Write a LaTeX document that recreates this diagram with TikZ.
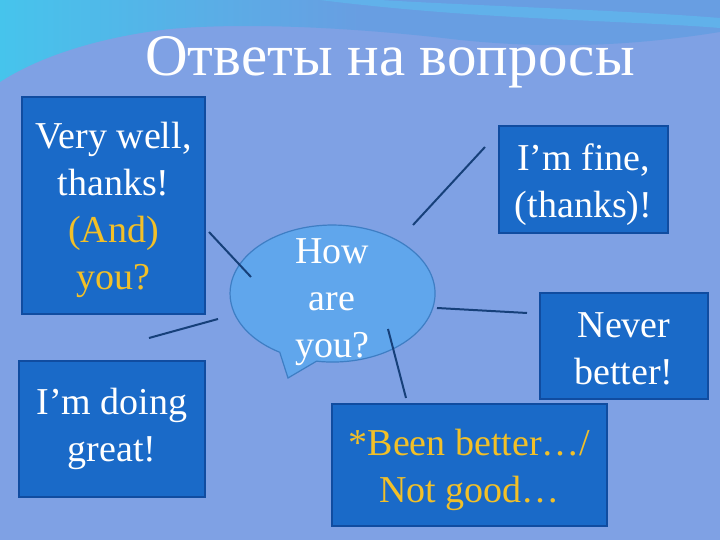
\documentclass[tikz,border=0pt]{standalone}
\usepackage{fontspec}
\setmainfont{Liberation Serif}
\definecolor{slideBg}{RGB}{127,161,228}
\definecolor{waveBlue}{RGB}{104,158,226}
\definecolor{waveCyan}{RGB}{70,196,236}
\definecolor{bandCyan}{RGB}{96,182,236}
\definecolor{boxFill}{RGB}{26,106,200}
\definecolor{boxLine}{RGB}{16,76,160}
\definecolor{bubbleFill}{RGB}{96,166,236}
\definecolor{bubbleLine}{RGB}{62,126,196}
\definecolor{stickLine}{RGB}{22,64,122}
\definecolor{answerGold}{RGB}{242,192,40}

\begin{document}
\begin{tikzpicture}
[x=1pt,y=1pt,
  boxDecorate/.style={draw=boxLine,line width=1.2pt,fill=boxFill,text=white,
    align=center,inner sep=0pt,font=\fontsize{38}{47}\selectfont},
  textDecorate/.style={text=white,align=center,font=\fontsize{38}{47}\selectfont},
  bubbleDecorate/.style={draw=bubbleLine,line width=1.2pt,fill=bubbleFill},
  lineDecorate/.style={-,draw=stickLine,line width=2pt}]
%% background
\fill[slideBg] (0,0) rectangle (720,540);
\useasboundingbox (0,0) rectangle (720,540);
\shade[left color=waveCyan,right color=waveBlue,middle color=waveBlue]
  (0,540) -- (720,540) -- (720,508)
  .. controls (620,492) and (540,492) .. (460,500)
  .. controls (360,512) and (250,518) .. (170,511)
  .. controls (100,503) and (40,484) .. (0,458) -- cycle;
\fill[bandCyan,opacity=0.8] (320,540) .. controls (480,520) and (620,520) .. (720,512)
  -- (720,522) .. controls (620,530) and (480,534) .. (380,540) -- cycle;
\node (title) at (390,464) [anchor=base,text=white,font=\fontsize{59}{70}\selectfont]
  {Ответы на вопросы};
%% speech bubble
\draw[bubbleDecorate] (316.5,178.8)
  arc[start angle=261,end angle=599,x radius=102.5,y radius=68.5]
  -- (288,162) -- cycle;
\node (how) at (332,240) [textDecorate] {\rule{0pt}{30pt}How\\are\\you?};
%% answer boxes
\node (very) at (113.5,334.5) [boxDecorate,minimum width=183pt,minimum height=217pt]
  {\rule{0pt}{36pt}Very well,\\thanks!\\\textcolor{answerGold}{(And)}\\\textcolor{answerGold}{you?}};
\node (doing) at (112,111) [boxDecorate,minimum width=186pt,minimum height=136pt]
  {I’m doing\\great!};
\node (fine) at (583.5,360.5) [boxDecorate,minimum width=169pt,minimum height=107pt]
  {\rule{0pt}{38pt}I’m fine,\\(thanks)!};
\node (never) at (624,194) [boxDecorate,minimum width=168pt,minimum height=106pt]
  {\rule{0pt}{30pt}Never\\better!};
\node (been) at (469.5,75) [boxDecorate,minimum width=275pt,minimum height=122pt,
  text=answerGold] {\rule{0pt}{36pt}*Been better…/\\Not good…};
%% stick ends
\foreach \nodename/\x/\y in {
  veryA/209/308, veryB/251/263,
  doingA/149/202, doingB/218/221,
  fineA/413/315, fineB/485/393,
  neverA/437/232, neverB/527/227,
  beenA/388/211, beenB/406/142}
{
  \coordinate (\nodename) at (\x,\y);
}
%% sticks
\path
\foreach \startnode/\endnode in {
  veryA/veryB, doingA/doingB, fineA/fineB, neverA/neverB, beenA/beenB}
{
  (\startnode) edge[lineDecorate] (\endnode)
};
\end{tikzpicture}
\end{document}
